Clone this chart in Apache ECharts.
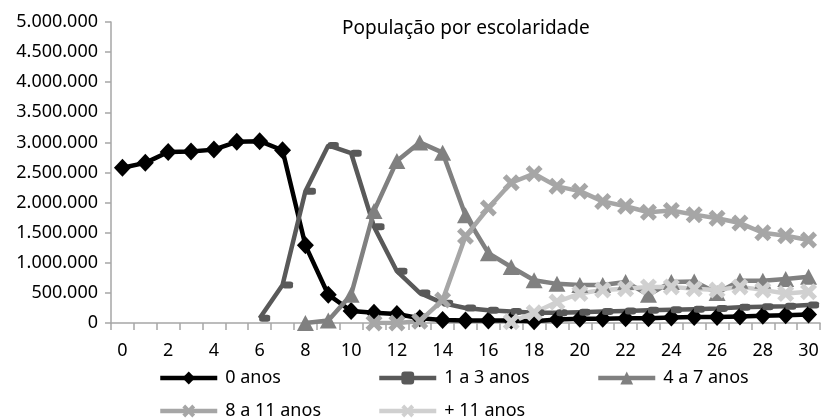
<!DOCTYPE html>
<html>
<head>
<meta charset="utf-8">
<script src="https://cdn.jsdelivr.net/npm/echarts@6/dist/echarts.min.js"></script>
<style>
html,body{margin:0;padding:0;background:#fff;}
#chart{width:826px;height:419px;}
</style>
</head>
<body>
<div id="chart"></div>
<script>
var titleText = 'População por escolaridade';
var categories = [];
for (var c = 0; c <= 30; c++) categories.push(String(c));

var seriesNames = ['0 anos', '1 a 3 anos', '4 a 7 anos', '8 a 11 anos', '+ 11 anos'];

var anos0 = [2580000, 2660000, 2840000, 2850000, 2880000, 3010000, 3020000, 2870000, 1290000, 470000,
  200000, 170000, 150000, 80000, 50000, 40000, 40000, 40000, 30000, 60000,
  70000, 70000, 80000, 80000, 90000, 100000, 100000, 110000, 120000, 130000, 140000];

var anos1a3 = [null, null, null, null, null, null, 80000, 630000, 2190000, 2950000,
  2820000, 1600000, 860000, 500000, 330000, 250000, 210000, 190000, 170000, 170000,
  180000, 190000, 200000, 210000, 220000, 230000, 240000, 260000, 270000, 280000, 300000];

var anos4a7 = [null, null, null, null, null, null, null, null, 0, 40000,
  470000, 1860000, 2690000, 3000000, 2830000, 1790000, 1160000, 930000, 710000, 650000,
  630000, 630000, 680000, 470000, 680000, 690000, 500000, 700000, 700000, 730000, 770000];

var anos8a11 = [null, null, null, null, null, null, null, null, null, null,
  null, 0, 0, 30000, 380000, 1440000, 1910000, 2330000, 2480000, 2270000,
  2190000, 2020000, 1940000, 1840000, 1870000, 1800000, 1740000, 1660000, 1500000, 1450000, 1380000];

var anosMais11 = [null, null, null, null, null, null, null, null, null, null,
  null, null, null, null, null, null, null, 20000, 170000, 350000,
  490000, 550000, 570000, 600000, 600000, 570000, 550000, 600000, 550000, 490000, 520000];

var yTicks = { min: 0, max: 5000000, interval: 500000 };

var FONT = 'Noto Sans';
var xPath = 'path://M0,2.2 L2.2,0 L5,2.8 L7.8,0 L10,2.2 L7.2,5 L10,7.8 L7.8,10 L5,7.2 L2.2,10 L0,7.8 L2.8,5 Z';

function fmt(v) {
  return String(v).replace(/\B(?=(\d{3})+(?!\d))/g, '.');
}

function mkSeries(name, data, color, symbol, size, offset) {
  return {
    name: name,
    type: 'line',
    data: data,
    symbol: symbol,
    symbolSize: size,
    symbolOffset: offset || [0, 0],
    showAllSymbol: true,
    lineStyle: { color: color, width: 4.5 },
    itemStyle: { color: color, borderWidth: 0 },
    emphasis: { disabled: true },
    animation: false
  };
}

function mkLegend(name, left, top) {
  return {
    data: [name],
    left: left,
    top: top,
    padding: 0,
    itemWidth: 57,
    itemHeight: 16,
    lineStyle: { width: 4.5 },
    textStyle: { fontFamily: FONT, fontSize: 18, color: '#000', lineHeight: 20, padding: [0, 0, 0, 3] },
    selectedMode: false
  };
}

var chart = echarts.init(document.getElementById('chart'), null, { renderer: 'canvas' });
chart.setOption({
  backgroundColor: '#fff',
  animation: false,
  title: {
    text: titleText,
    left: 342,
    top: 18,
    padding: 0,
    textStyle: { fontFamily: FONT, fontSize: 19, fontWeight: 'normal', color: '#000', lineHeight: 22 }
  },
  legend: [
    mkLegend(seriesNames[0], 158, 368),
    mkLegend(seriesNames[1], 377, 368),
    mkLegend(seriesNames[2], 596, 368),
    mkLegend(seriesNames[3], 158, 401),
    mkLegend(seriesNames[4], 377, 401)
  ],
  grid: { left: 111, right: 6, top: 22, bottom: 96, containLabel: false },
  xAxis: {
    type: 'category',
    data: categories,
    boundaryGap: true,
    axisLine: { lineStyle: { color: '#a6a6a6', width: 1.5 } },
    axisTick: { show: true, interval: 0, length: 7, lineStyle: { color: '#a6a6a6', width: 1.5 } },
    axisLabel: { interval: 1, margin: 19, fontFamily: FONT, fontSize: 18, color: '#000' },
    splitLine: { show: false }
  },
  yAxis: {
    type: 'value',
    min: yTicks.min,
    max: yTicks.max,
    interval: yTicks.interval,
    axisLine: { show: true, lineStyle: { color: '#a6a6a6', width: 1.5 } },
    axisTick: { show: true, length: 6, lineStyle: { color: '#a6a6a6', width: 1.5 } },
    axisLabel: { margin: 13, fontFamily: FONT, fontSize: 18, color: '#000', formatter: fmt },
    splitLine: { show: false }
  },
  series: [
    mkSeries(seriesNames[0], anos0, '#000000', 'diamond', [17, 18]),
    mkSeries(seriesNames[1], anos1a3, '#595959', 'roundRect', [11, 7], [5, 0]),
    mkSeries(seriesNames[2], anos4a7, '#808080', 'triangle', [17, 16]),
    mkSeries(seriesNames[3], anos8a11, '#a6a6a6', xPath, 17),
    mkSeries(seriesNames[4], anosMais11, '#d0d0d0', xPath, 17)
  ]
});
</script>
</body>
</html>
